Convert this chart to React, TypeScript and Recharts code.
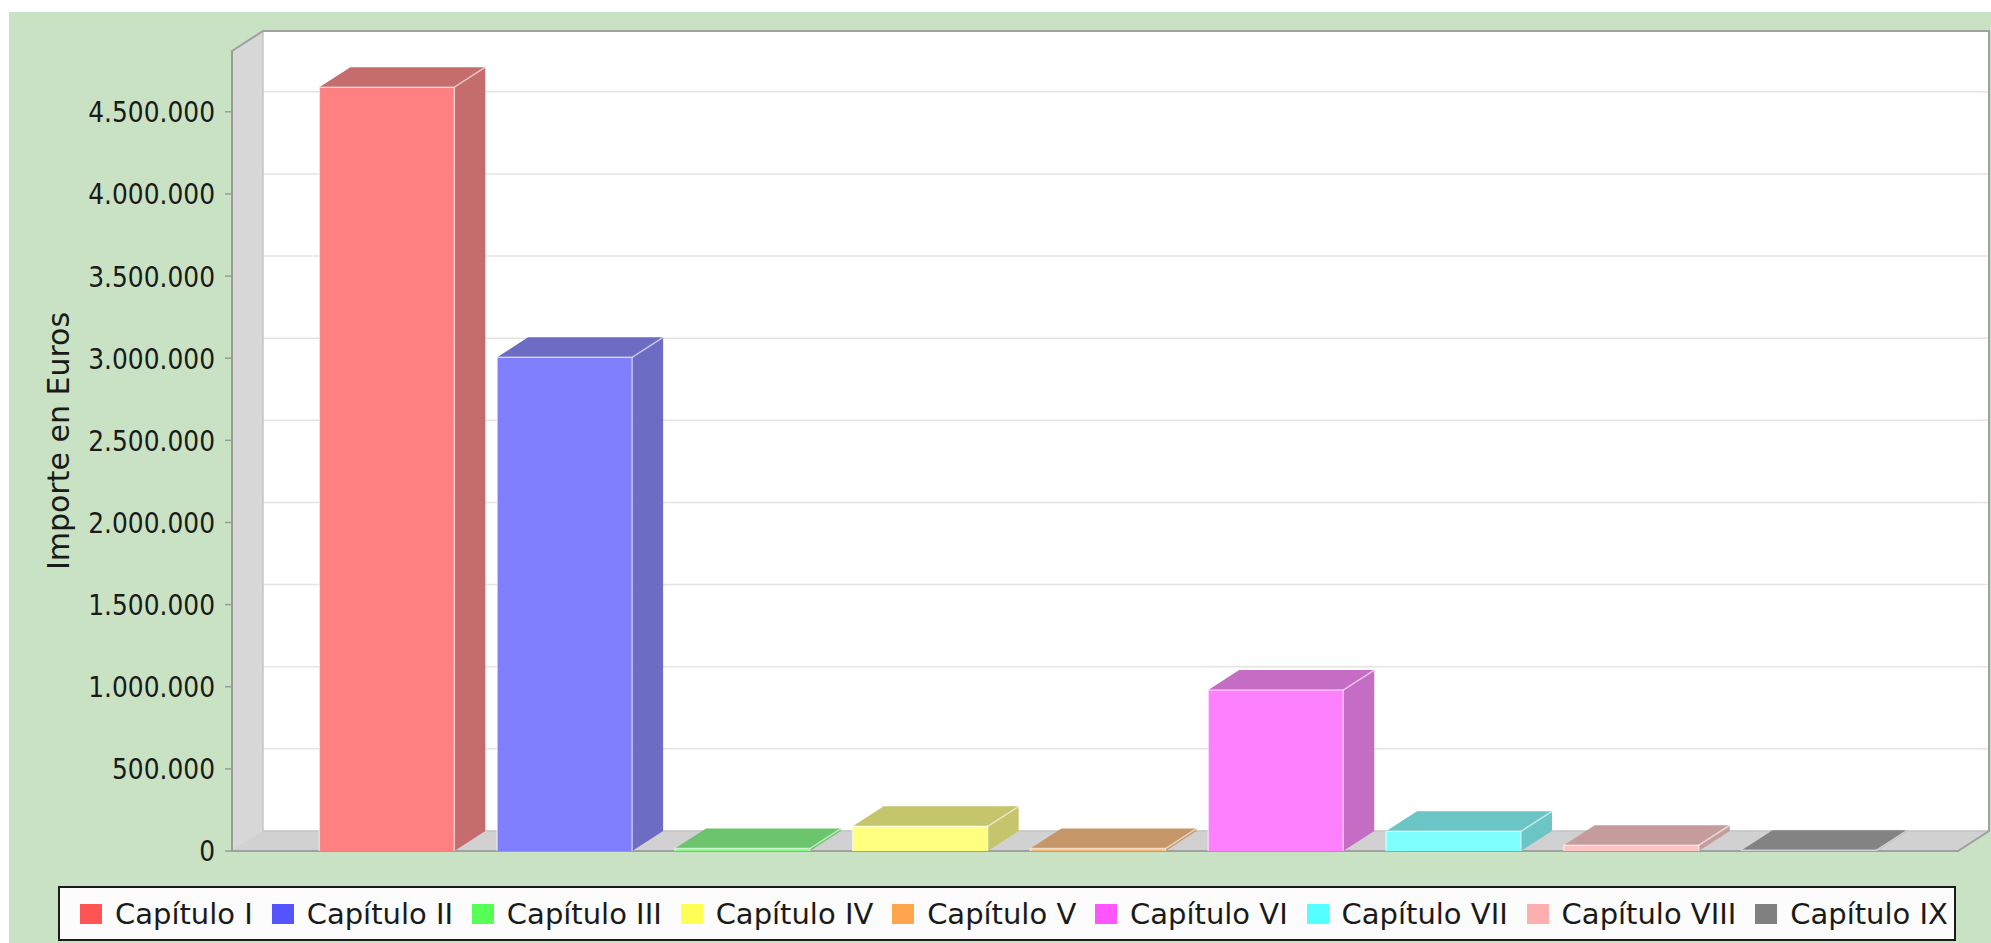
import React from 'react';
import { BarChart, Bar, XAxis, YAxis, CartesianGrid, ReferenceArea } from 'recharts';

// ---------- data ----------
const chapters = [
  'Capítulo I',
  'Capítulo II',
  'Capítulo III',
  'Capítulo IV',
  'Capítulo V',
  'Capítulo VI',
  'Capítulo VII',
  'Capítulo VIII',
  'Capítulo IX',
];
const amounts = [4650000, 3005000, 15000, 150000, 15000, 980000, 120000, 35000, 5000];
const seriesColors = ['#FF5555', '#5555FF', '#55FF55', '#FFFF55', '#FFA64D', '#FF55FF', '#55FFFF', '#FFAFAF', '#808080'];
const yTicks = [0, 500000, 1000000, 1500000, 2000000, 2500000, 3000000, 3500000, 4000000, 4500000];
const yAxisTitle = 'Importe en Euros';
const Y_MAX = 4870000;

const data = chapters.map((name, i) => ({ name, value: amounts[i] }));

// ---------- layout ----------
const W = 1982;
const H = 931;
const MARGIN = { top: 39, right: 33, bottom: 92, left: 0 };
const Y_AXIS_W = 223;
const PLOT_W = W - MARGIN.right - Y_AXIS_W;
const PLOT_H = H - MARGIN.top - MARGIN.bottom;
const DX = 31;
const DY = 20;
const BACK_SHIFT = (DY / PLOT_H) * Y_MAX;
const FONT = '"DejaVu Sans", Verdana, sans-serif';
const BG = '#C9E2C3';

// ---------- helpers ----------
const hexToRgb = (h: string) => [1, 3, 5].map((i) => parseInt(h.slice(i, i + 2), 16));
const toHex = (c: number[]) => '#' + c.map((v) => Math.round(v).toString(16).padStart(2, '0')).join('');
const overWhite = (c: number[], a: number) => c.map((v) => v * a + 255 * (1 - a));
const frontColor = (h: string) => toHex(overWhite(hexToRgb(h), 0.75));
const sideColor = (h: string) => toHex(overWhite(hexToRgb(h).map((v) => Math.floor(v * 0.7)), 0.75));
const fmt = (n: number) => String(n).replace(/\B(?=(\d{3})+(?!\d))/g, '.');

// ---------- custom pieces ----------
const Bar3D = (props: any) => {
  const { x, y, width, height, index } = props;
  if (x == null || y == null) return null;
  const base = seriesColors[index % seriesColors.length];
  const f = frontColor(base);
  const s = sideColor(base);
  const edge = 'rgba(255,255,255,0.55)';
  const top = `${x},${y} ${x + DX},${y - DY} ${x + width + DX},${y - DY} ${x + width},${y}`;
  const side = `${x + width},${y} ${x + width + DX},${y - DY} ${x + width + DX},${y + height - DY} ${x + width},${y + height}`;
  return (
    <g>
      <polygon points={side} fill={s} />
      <polygon points={top} fill={s} />
      <rect x={x} y={y} width={width} height={Math.max(height, 0)} fill={f} />
      <polyline points={`${x},${y + height} ${x},${y} ${x + width},${y} ${x + width},${y + height}`} fill="none" stroke={edge} strokeWidth={1.5} />
      <line x1={x + width} y1={y} x2={x + width + DX} y2={y - DY} stroke={edge} strokeWidth={1.5} />
    </g>
  );
};

const Frame3D = (props: any) => {
  const { x, y, width, height } = props;
  if (x == null) return null;
  const b = y + height;
  const wall = `${x},${y} ${x + DX},${y - DY} ${x + DX},${b - DY} ${x},${b}`;
  const floor = `${x},${b} ${x + DX},${b - DY} ${x + width + DX},${b - DY} ${x + width},${b}`;
  const outline = `${x},${b} ${x},${y} ${x + DX},${y - DY} ${x + width + DX},${y - DY} ${x + width + DX},${b - DY} ${x + width},${b} Z`;
  return (
    <g>
      <polygon points={wall} fill="#D7D7D7" />
      <polygon points={floor} fill="#D1D1D1" />
      <line x1={x + DX} y1={y - DY} x2={x + DX} y2={b - DY} stroke="#C4C4C4" strokeWidth={1.5} />
      <line x1={x + DX} y1={b - DY} x2={x + width + DX} y2={b - DY} stroke="#C4C4C4" strokeWidth={1.5} />
      <polygon points={outline} fill="none" stroke="#A0A0A0" strokeWidth={2} />
    </g>
  );
};

const YTick = (props: any) => {
  const { x, y, payload } = props;
  return (
    <g transform={`translate(${x},${y})`}>
      <text x={0} y={0} dy="0.36em" textAnchor="end" transform="scale(0.86,1)" fontSize={29} fontFamily={FONT} fill="#1A1A1A">
        {fmt(payload.value)}
      </text>
    </g>
  );
};

const YLabel = (props: any) => {
  const vb = props && props.viewBox ? props.viewBox : { x: 0, y: MARGIN.top, width: Y_AXIS_W, height: PLOT_H };
  const cx = vb.x + 49;
  const cy = vb.y + vb.height / 2 - 10;
  return (
    <text transform={`translate(${cx},${cy}) rotate(-90)`} textAnchor="middle" dominantBaseline="central" fontSize={30} fontFamily={FONT} fill="#1A1A1A">
      {yAxisTitle}
    </text>
  );
};

const LegendBox = () => (
  <div
    style={{
      position: 'absolute',
      left: 49,
      top: 874,
      width: 1898,
      height: 55,
      boxSizing: 'border-box',
      border: '2px solid #1A1A1A',
      background: '#FBFCFB',
      display: 'flex',
      alignItems: 'center',
      justifyContent: 'space-between',
      padding: '0 6px 0 20px',
      fontFamily: FONT,
      fontSize: 29,
      color: '#1A1A1A',
      whiteSpace: 'nowrap',
    }}
  >
    {chapters.map((c, i) => (
      <div key={c} style={{ display: 'flex', alignItems: 'center' }}>
        <span style={{ display: 'inline-block', width: 22, height: 20, background: seriesColors[i], marginRight: 13 }} />
        <span>{c}</span>
      </div>
    ))}
  </div>
);

export default function App() {
  return (
    <div style={{ position: 'absolute', left: 9, top: 12, width: W, height: H, background: BG, overflow: 'hidden' }}>
      <BarChart width={W} height={H} data={data} margin={MARGIN} barCategoryGap="12%">
        <XAxis dataKey="name" hide padding={{ left: 66, right: 60 }} />
        <XAxis xAxisId="frame" dataKey="name" hide />
        <YAxis
          domain={[0, Y_MAX]}
          ticks={yTicks}
          width={Y_AXIS_W}
          tickSize={7}
          tickMargin={10}
          tick={<YTick />}
          axisLine={{ stroke: '#9A9A9A', strokeWidth: 1.5 }}
          tickLine={{ stroke: '#9A9A9A', strokeWidth: 1.5 }}
          interval={0}
          label={<YLabel />}
        />
        <YAxis yAxisId="back" domain={[-BACK_SHIFT, Y_MAX - BACK_SHIFT]} ticks={yTicks} hide allowDataOverflow />
        <CartesianGrid
          yAxisId="back"
          xAxisId="frame"
          vertical={false}
          syncWithTicks
          x={Y_AXIS_W + DX}
          y={MARGIN.top - DY}
          width={PLOT_W}
          height={PLOT_H}
          fill="#FFFFFF"
          fillOpacity={1}
          stroke="#E4E4E4"
          strokeWidth={1.5}
        />
        <ReferenceArea xAxisId="frame" y1={0} y2={Y_MAX} shape={<Frame3D />} ifOverflow="visible" />
        <Bar dataKey="value" shape={<Bar3D />} isAnimationActive={false} />
      </BarChart>
      <LegendBox />
    </div>
  );
}
